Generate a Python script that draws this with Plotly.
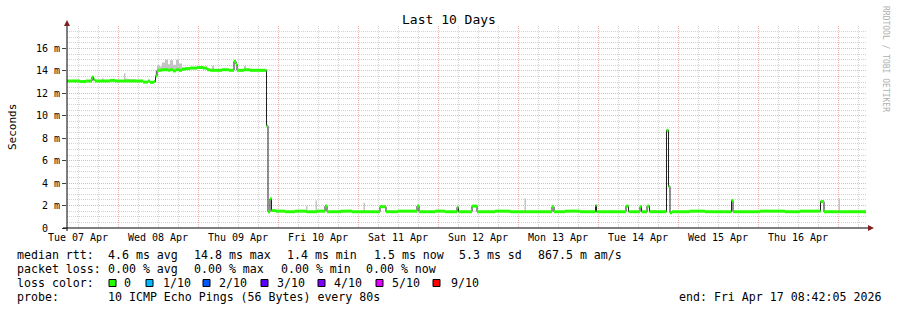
import plotly.graph_objects as go
import pandas as pd

# ---------------- data ----------------
START = "2026-04-07 08:42:05"
END = "2026-04-17 08:42:05"

# hours since START where the median changes (step series)
t_hours = [0.0, 3.9, 5.7, 7.5, 7.95, 8.4, 10.5, 10.95, 12.9, 14.4, 17.1, 17.55, 18.6, 20.7,
           22.8, 24.3, 24.9, 26.1, 26.55, 27.0, 27.9, 28.5, 29.4, 30.3, 30.9, 31.8, 32.7,
           33.6, 34.5, 35.4, 36.9, 39.0, 40.8, 42.0, 42.9, 43.5, 44.1, 46.5, 48.6, 50.1,
           50.7, 51.0, 53.1, 53.7, 54.9, 59.85, 60.3, 60.9, 61.35, 62.7, 65.4, 68.4, 71.7,
           72.15, 74.55, 75.0, 77.4, 78.0, 81.6, 82.2, 85.5, 88.95, 89.4, 93.9, 95.7, 99.3,
           105.0, 105.6, 110.4, 113.4, 117.0, 117.45, 121.5, 123.0, 128.4, 132.9, 137.25,
           137.7, 145.5, 146.1, 149.4, 153.9, 158.55, 158.85, 163.2, 164.4, 167.7, 168.45,
           171.9, 172.35, 174.0, 174.75, 179.85, 180.45, 180.9, 181.5, 186.9, 191.4,
           199.35, 199.8, 200.4, 207.9, 215.4, 219.9, 226.05, 227.1, 231.45, 231.9, 234.9]
data_end_hours = 239.7

# median round trip time (ms)
median_ms = [13.1, 13.05, 13.1, 13.45, 13.2, 13.1, 13.1, 13.1, 13.15, 13.1, 13.1, 13.1, 13.1, 13.1,
             13.0, 13.1, 12.98, 13.05, 13.55, 14.05, 14.05, 14.1, 14.1, 14.05, 14.1, 14.0, 14.1,
             14.05, 14.15, 14.2, 14.25, 14.3, 14.25, 14.1, 14.05, 14.05, 14.05, 14.1, 14.05, 14.85,
             14.6, 14.05, 14.1, 14.1, 14.05, 9.1, 1.45, 2.6, 1.55, 1.5, 1.45, 1.5, 1.45,
             1.45, 1.45, 1.5, 1.95, 1.45, 1.45, 1.5, 1.45, 1.45, 1.45, 1.9, 1.45, 1.5,
             1.95, 1.45, 1.5, 1.45, 1.85, 1.45, 1.95, 1.45, 1.5, 1.45, 1.45,
             1.45, 1.9, 1.45, 1.5, 1.45, 2.0, 1.45, 1.45, 1.45, 1.95, 1.45,
             1.9, 1.45, 1.95, 1.45, 8.7, 3.7, 1.35, 1.45, 1.5, 1.45,
             2.45, 1.45, 1.45, 1.5, 1.45, 1.5, 2.35, 1.45, 1.45, 1.45, 1.45]

# top of the ping spread ("smoke", ms)
smoke_ms = [13.15, 13.1, 13.15, 13.5, 13.25, 13.15, 13.35, 13.15, 13.2, 13.15, 13.8, 13.3, 13.25, 13.15,
            13.05, 13.15, 13.05, 13.1, 14.0, 14.5, 14.4, 14.75, 15.0, 14.6, 14.95, 14.55, 15.0,
            14.65, 14.3, 14.3, 14.35, 14.35, 14.3, 14.2, 14.15, 14.45, 14.1, 14.15, 14.1, 14.9,
            14.65, 14.1, 14.45, 14.15, 14.1, 9.15, 1.5, 2.65, 1.6, 1.55, 1.5, 1.55, 1.95,
            1.5, 2.45, 1.55, 2.0, 1.5, 1.6, 1.55, 1.5, 2.25, 1.5, 1.95, 1.5, 1.55,
            2.0, 1.5, 1.55, 1.5, 1.9, 1.5, 2.0, 1.5, 1.55, 1.5, 2.65,
            1.5, 1.95, 1.5, 1.55, 1.5, 2.05, 1.5, 1.55, 1.5, 2.0, 1.5,
            1.95, 1.5, 2.0, 1.55, 8.75, 3.75, 1.4, 1.5, 1.55, 1.5,
            2.55, 1.6, 1.5, 1.55, 1.5, 1.55, 2.4, 1.5, 2.65, 1.5, 1.55]

day_labels = ["2026-04-07", "2026-04-08", "2026-04-09", "2026-04-10", "2026-04-11",
              "2026-04-12", "2026-04-13", "2026-04-14", "2026-04-15", "2026-04-16"]
midnights = ["2026-04-08", "2026-04-09", "2026-04-10", "2026-04-11", "2026-04-12",
             "2026-04-13", "2026-04-14", "2026-04-15", "2026-04-16", "2026-04-17"]
y_tick_vals = [0, 2, 4, 6, 8, 10, 12, 14, 16]
y_tick_text = ["0\u00a0\u00a0", "2 m", "4 m", "6 m", "8 m", "10 m", "12 m", "14 m", "16 m"]

loss_labels = ["0", "1/10", "2/10", "3/10", "4/10", "5/10", "9/10"]
loss_colors = ["#26ff00", "#00b8ff", "#0059ff", "#5e00ff", "#7e00ff", "#dd00ff", "#ff0000"]

stats_rtt = ["median rtt:", "4.6 ms avg", "14.8 ms max", "1.4 ms min", "1.5 ms now",
             "5.3 ms sd", "867.5 m am/s"]
stats_loss = ["packet loss:", "0.00 % avg", "0.00 % max", "0.00 % min", "0.00 % now"]
probe_text = ["probe:", "10 ICMP Echo Pings (56 Bytes) every 80s"]
end_text = "end: Fri Apr 17 08:42:05 2026"

# ---------------- geometry helpers ----------------
W, H = 897, 310
L, R, T, B = 67, 30, 26, 82
PW, PH = W - L - R, H - T - B


def px(x):
    return (x - L) / PW


def py(y):
    return (H - B - y) / PH


start = pd.Timestamp(START)
end = pd.Timestamp(END)
times = [start + pd.Timedelta(hours=h) for h in t_hours]
t_end = start + pd.Timedelta(hours=data_end_hours)
fmt = "%Y-%m-%d %H:%M:%S"
xs = [t.strftime(fmt) for t in times] + [t_end.strftime(fmt)]
med_step = median_ms + [median_ms[-1]]
smk_step = smoke_ms + [smoke_ms[-1]]

# green loss-colour band: one horizontal piece per sample run
gx, gy = [], []
for i, m in enumerate(median_ms):
    gx += [xs[i], xs[i + 1], None]
    gy += [m, m, None]

MONO = "DejaVu Sans Mono"
fig = go.Figure()
fig.add_trace(go.Scatter(x=xs, y=med_step, mode="lines", line=dict(width=0, shape="hv"),
                         hoverinfo="skip", showlegend=False))
fig.add_trace(go.Scatter(x=xs, y=smk_step, mode="lines", line=dict(width=0, shape="hv"),
                         fill="tonexty", fillcolor="#c4c4c4", hoverinfo="skip", showlegend=False))
fig.add_trace(go.Scatter(x=xs, y=med_step, mode="lines",
                         line=dict(width=1, shape="hv", color="#202020"), showlegend=False))
fig.add_trace(go.Scatter(x=gx, y=gy, mode="lines", line=dict(width=3, color=loss_colors[0]),
                         connectgaps=False, showlegend=False))
# invisible carrier so the day-label axis is drawn
fig.add_trace(go.Scatter(x=xs, y=med_step, xaxis="x2", mode="lines",
                         line=dict(width=0), opacity=0, hoverinfo="skip", showlegend=False))

GRID = "#d2d2d2"
MGRID = "#f6b0b0"
DASH = "1px,1px"
xr = [start.strftime(fmt), end.strftime(fmt)]

fig.update_layout(
    width=W, height=H, margin=dict(l=L, r=R, t=T, b=B),
    paper_bgcolor="white", plot_bgcolor="white", showlegend=False,
    font=dict(family=MONO, size=10, color="black"),
    xaxis=dict(type="date", range=xr, tickmode="array", tickvals=midnights,
               showticklabels=False, ticks="", showgrid=True, gridcolor=MGRID,
               griddash=DASH, gridwidth=1, zeroline=False, showline=False,
               minor=dict(tick0="2026-04-07 00:00:00", dtick=6 * 3600 * 1000,
                          showgrid=True, gridcolor=GRID, griddash=DASH, gridwidth=1)),
    xaxis2=dict(type="date", range=xr, overlaying="x", anchor="y", side="bottom",
                tickmode="array", tickvals=[d + " 12:00:00" for d in day_labels],
                tickformat="%a %d %b", showgrid=False, zeroline=False, showline=False,
                ticks="", ticklabelstandoff=2,
                tickfont=dict(family=MONO, size=10, color="black")),
    yaxis=dict(range=[0, 18], tickmode="array", tickvals=y_tick_vals, ticktext=y_tick_text,
               showgrid=True, gridcolor=MGRID, griddash=DASH, gridwidth=1,
               zeroline=False, showline=False, ticks="outside", ticklen=4,
               tickcolor="#404040", tickfont=dict(family=MONO, size=10, color="black"),
               minor=dict(dtick=0.5, tick0=0, showgrid=True, gridcolor=GRID,
                          griddash=DASH, gridwidth=1)),
)

shapes = []
# axis lines and arrows
shapes.append(dict(type="line", xref="paper", yref="paper", x0=px(63), x1=px(869),
                   y0=py(228), y1=py(228), line=dict(color="black", width=1)))
shapes.append(dict(type="line", xref="paper", yref="paper", x0=px(67), x1=px(67),
                   y0=py(231), y1=py(24), line=dict(color="black", width=1)))


def tri(points):
    return "M " + " L ".join(f"{px(a)},{py(b)}" for a, b in points) + " Z"


shapes.append(dict(type="path", xref="paper", yref="paper",
                   path=tri([(64, 26), (70, 26), (67, 20)]),
                   fillcolor="#7f1f1f", line=dict(width=0)))
shapes.append(dict(type="path", xref="paper", yref="paper",
                   path=tri([(868, 225), (868, 231), (874, 228)]),
                   fillcolor="#7f1f1f", line=dict(width=0)))

# loss colour boxes
box_x = [109, 146, 203, 261, 318, 376, 433]
for bx, col in zip(box_x, loss_colors):
    shapes.append(dict(type="rect", xref="paper", yref="paper", x0=px(bx), x1=px(bx + 7),
                       y0=py(286.5), y1=py(279.5), fillcolor=col,
                       line=dict(color="black", width=1)))
fig.update_layout(shapes=shapes)

ann = []
LEG = 11.6


def text(s, x, y, size=LEG, anchor="left", color="black", angle=0, yanchor="middle"):
    ann.append(dict(text=s, x=px(x), y=py(y), xref="paper", yref="paper", xanchor=anchor,
                    yanchor=yanchor, showarrow=False, borderpad=0, textangle=angle,
                    font=dict(family=MONO, size=size, color=color)))


text("Last 10 Days", 448.5, 19.5, size=13, anchor="center")
text("Seconds", 12, 127, size=11, anchor="center", angle=-90)
text("RRDTOOL / TOBI OETIKER", 886, 59, size=8, anchor="center", angle=90, color="#b0b0b0")

for s, x in zip(stats_rtt, [16, 107.3, 193.3, 285.5, 372.5, 458.3, 536.7]):
    text(s, x, 255)
for s, x in zip(stats_loss, [16, 107.3, 193.3, 280, 365]):
    text(s, x, 268.5)
text("loss color:", 16, 282.5)
for s, x in zip(loss_labels, [123, 161.7, 218.3, 275.7, 333.3, 390.7, 450]):
    text(s, x, 282.5)
text(probe_text[0], 16, 296.5)
text(probe_text[1], 107.3, 296.5)
text(end_text, 678.3, 296.5)
fig.update_layout(annotations=ann)

fig.write_html("out.html")
